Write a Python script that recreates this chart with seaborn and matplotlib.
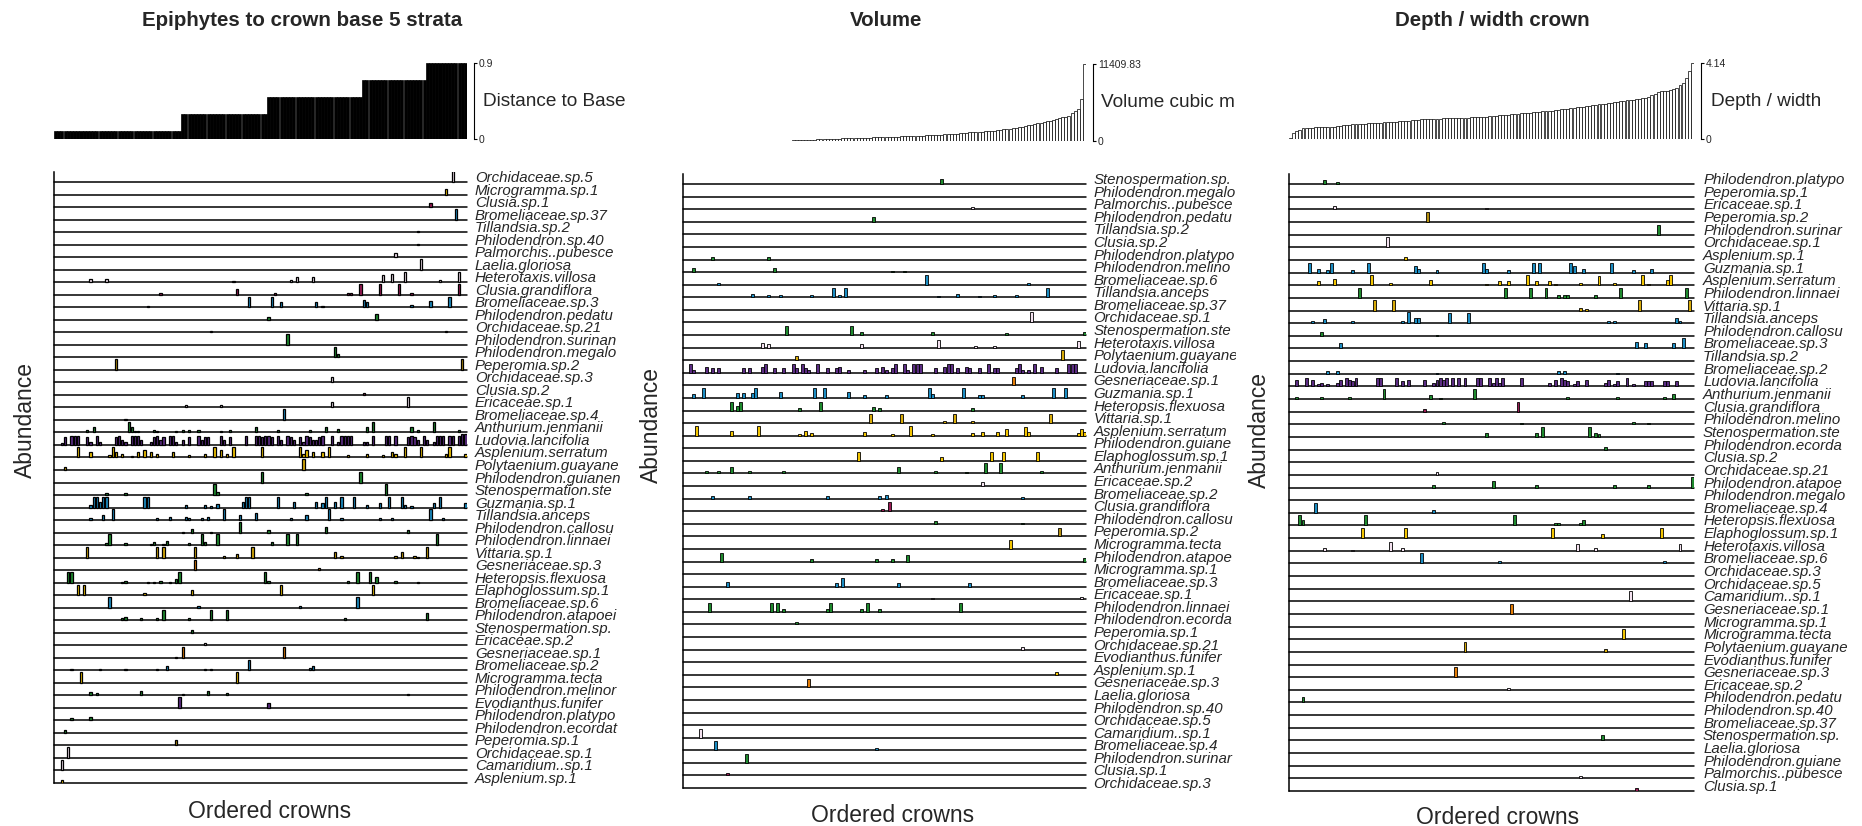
import numpy as np
import matplotlib
matplotlib.use("Agg")
import matplotlib.pyplot as plt
from matplotlib.transforms import blended_transform_factory
import seaborn as sns

N_CROWNS = 130
crowns = np.arange(N_CROWNS)

# ---- ordering variables (top bar charts) ----
strata_levels = [0.1, 0.3, 0.5, 0.7, 0.9]
strata_counts = [40, 27, 30, 20, 13]
distance_to_base = np.repeat(strata_levels, strata_counts)

volume_m3 = [
    0, 0, 0, 0, 0, 0, 0, 0, 0, 0, 0, 0, 0, 0, 0, 0,
    22, 25, 28, 30, 33, 36, 38, 41, 44, 47, 50, 53, 55, 58, 61, 64, 67, 70, 74, 78,
    150, 160, 172, 185, 196, 208, 220, 232, 241, 250,
    300, 315, 330, 345, 360, 372, 385, 398, 410,
    450, 462, 475, 488, 500, 512, 525, 538, 550, 562, 575, 588, 600, 615, 630,
    700, 715, 730, 745, 760, 775, 790, 805, 820, 840,
    880, 905, 930, 955, 975,
    1000, 1040, 1075, 1110, 1150,
    1200, 1230, 1260, 1290, 1320, 1350, 1380, 1410, 1440,
    1500, 1550, 1600, 1650,
    1750, 1800, 1850, 1900, 1960, 2020, 2100,
    2200, 2300, 2400, 2500,
    2600, 2700, 2800, 2900,
    3000, 3150, 3300,
    3400, 3500, 3600, 3700,
    4100, 4400, 4800, 6200, 11409.83]

depth_width = [
    0.08, 0.33, 0.44, 0.49,
    0.60, 0.61, 0.62, 0.62, 0.63, 0.64, 0.64, 0.65, 0.66, 0.67, 0.68, 0.69, 0.70,
    0.74, 0.76, 0.78, 0.80, 0.81, 0.82, 0.83, 0.84, 0.85, 0.86, 0.87, 0.88, 0.89,
    0.90, 0.91, 0.92, 0.93, 0.95, 0.96, 0.97, 0.99, 1.00,
    1.04, 1.05, 1.06, 1.07, 1.08, 1.08, 1.09, 1.10, 1.10, 1.11, 1.12, 1.12, 1.13,
    1.14, 1.14, 1.15, 1.16, 1.16, 1.17, 1.18, 1.18, 1.19, 1.20, 1.21, 1.22,
    1.24, 1.26, 1.27, 1.29, 1.30, 1.32, 1.33, 1.35, 1.36, 1.38, 1.39, 1.41, 1.42,
    1.44, 1.45, 1.47, 1.48, 1.50, 1.51, 1.53, 1.55, 1.57, 1.59, 1.61, 1.63, 1.65,
    1.67, 1.69, 1.72,
    1.75, 1.77, 1.80, 1.82, 1.84, 1.86, 1.88, 1.90, 1.93, 1.95, 1.98, 2.00, 2.03,
    2.05, 2.08, 2.10, 2.13, 2.15, 2.18,
    2.20, 2.22, 2.24, 2.30, 2.38, 2.45,
    2.55, 2.60, 2.62, 2.64, 2.66, 2.70,
    2.80, 2.95, 3.05,
    3.30, 3.70, 4.14]

# ---- abundance per species: (crown rank, abundance), rows listed top to bottom ----
strata_hits = {
    "Orchidaceae.sp.5": [(125, 10)],
    "Microgramma.sp.1": [(123, 5)],
    "Clusia.sp.1": [(118, 4)],
    "Bromeliaceae.sp.37": [(126, 10)],
    "Tillandsia.sp.2": [(114, 1)],
    "Philodendron.sp.40": [(114, 1)],
    "Palmorchis..pubesce": [(107, 4)],
    "Laelia.gloriosa": [(115, 10)],
    "Heterotaxis.villosa": [(11, 3), (16, 3), (56, 1), (74, 2), (76, 5), (81, 5), (103, 7), (106, 8),
                            (110, 10), (121, 2), (127, 10)],
    "Clusia.grandiflora": [(33, 2), (57, 5), (69, 2), (92, 2), (93, 2), (96, 10), (102, 10), (108, 10),
                           (112, 2), (127, 10)],
    "Bromeliaceae.sp.3": [(29, 1), (61, 10), (68, 10), (71, 5), (82, 5), (84, 1), (97, 7), (98, 5),
                          (112, 2), (118, 6), (124, 10)],
    "Philodendron.pedatu": [(67, 3), (101, 5)],
    "Orchidaceae.sp.21": [(49, 1), (123, 1)],
    "Philodendron.surinan": [(73, 10)],
    "Philodendron.megalo": [(88, 10), (89, 3)],
    "Peperomia.sp.2": [(19, 10), (128, 10)],
    "Orchidaceae.sp.3": [(87, 5)],
    "Clusia.sp.2": [(97, 2)],
    "Ericaceae.sp.1": [(41, 2), (52, 2), (87, 5), (111, 10)],
    "Bromeliaceae.sp.4": [(22, 1), (72, 10)],
    "Anthurium.jenmanii": [(10, 2), (12, 5), (23, 10), (24, 5), (25, 1), (26, 1), (31, 2), (32, 1),
                           (38, 1), (40, 2), (42, 2), (45, 2), (52, 1), (55, 2), (63, 5), (70, 2),
                           (80, 2), (85, 5), (89, 3), (98, 5), (100, 10), (112, 5), (114, 2),
                           (119, 10), (127, 2)],
    "Ludovia.lancifolia": [(2, 2), (3, 7), (5, 8), (6, 8), (7, 8), (10, 7), (11, 3), (13, 8), (14, 3),
                           (19, 7), (20, 8), (21, 5), (22, 3), (24, 8), (25, 8), (26, 8), (27, 5),
                           (30, 3), (31, 7), (32, 8), (33, 5), (34, 7), (36, 8), (37, 8), (38, 3),
                           (40, 5), (42, 7), (45, 8), (46, 5), (47, 7), (48, 7), (52, 8), (53, 5),
                           (55, 7), (60, 8), (63, 8), (64, 8), (65, 7), (66, 8), (67, 8), (68, 7),
                           (70, 8), (71, 5), (73, 8), (74, 7), (75, 5), (77, 7), (78, 3), (79, 8),
                           (80, 7), (81, 5), (82, 5), (83, 7), (84, 8), (87, 8), (89, 3), (90, 8),
                           (91, 8), (92, 8), (93, 8), (97, 3), (98, 3), (100, 8), (104, 8), (105, 8),
                           (107, 8), (111, 7), (112, 8), (113, 7), (114, 5), (116, 8), (117, 5),
                           (119, 3), (120, 8), (121, 8), (122, 8), (124, 8), (125, 8), (127, 8),
                           (128, 10), (129, 10)],
    "Asplenium.serratum": [(7, 10), (11, 5), (17, 2), (18, 10), (19, 5), (21, 3), (24, 1), (26, 5),
                           (28, 7), (30, 5), (32, 3), (37, 5), (42, 2), (47, 3), (50, 10), (52, 7),
                           (54, 3), (56, 10), (65, 10), (77, 10), (78, 3), (79, 7), (81, 5), (84, 5),
                           (86, 10), (92, 2), (98, 3), (103, 2), (106, 5), (107, 3), (110, 10),
                           (115, 10), (123, 3), (124, 10), (129, 3)],
    "Polytaenium.guayane": [(3, 3), (78, 10)],
    "Philodendron.guianen": [(65, 10), (96, 10)],
    "Stenospermation.ste": [(16, 2), (22, 2), (50, 10), (51, 3), (79, 2), (104, 10)],
    "Guzmania.sp.1": [(11, 2), (12, 10), (13, 10), (14, 5), (15, 10), (16, 10), (28, 10), (29, 10),
                      (41, 2), (47, 2), (49, 1), (51, 3), (59, 5), (60, 10), (61, 10), (70, 10),
                      (75, 5), (82, 5), (84, 4), (85, 10), (88, 5), (90, 10), (94, 10), (98, 2),
                      (102, 4), (105, 10), (109, 10), (110, 2), (112, 1), (119, 4), (121, 10), (129, 4)],
    "Tillandsia.anceps": [(11, 2), (15, 5), (18, 10), (32, 2), (36, 3), (41, 3), (42, 2), (46, 2),
                          (48, 3), (53, 10), (58, 5), (63, 7), (74, 2), (79, 5), (86, 10), (90, 2),
                          (102, 2), (106, 2), (118, 10), (122, 2)],
    "Philodendron.callosu": [(40, 1), (43, 3), (49, 1), (58, 10), (67, 2), (85, 5), (111, 2)],
    "Philodendron.linnaei": [(16, 2), (17, 10), (22, 2), (30, 1), (31, 3), (34, 1), (35, 4), (42, 2),
                             (46, 10), (47, 3), (51, 10), (68, 3), (73, 10), (76, 10), (120, 10)],
    "Vittaria.sp.1": [(10, 10), (32, 10), (34, 10), (44, 10), (53, 2), (57, 3), (62, 10), (88, 5),
                      (90, 2), (107, 2), (109, 5), (113, 2), (114, 1), (117, 10)],
    "Gesneriaceae.sp.3": [(44, 10), (83, 2)],
    "Heteropsis.flexuosa": [(4, 10), (5, 10), (21, 1), (22, 2), (29, 1), (31, 1), (33, 2), (36, 1),
                            (38, 3), (39, 10), (66, 10), (67, 2), (92, 2), (95, 10), (99, 10), (101, 5),
                            (107, 2), (114, 1)],
    "Elaphoglossum.sp.1": [(7, 10), (9, 10), (28, 2), (43, 5), (71, 10), (100, 10)],
    "Bromeliaceae.sp.6": [(17, 10), (45, 2), (77, 2), (95, 10)],
    "Philodendron.atapoei": [(21, 2), (22, 3), (27, 2), (32, 2), (34, 10), (42, 2), (49, 10), (54, 10),
                             (91, 2), (117, 7)],
    "Stenospermation.sp.": [(43, 3)],
    "Ericaceae.sp.2": [(47, 2)],
    "Gesneriaceae.sp.1": [(38, 1), (40, 10), (72, 10)],
    "Bromeliaceae.sp.2": [(5, 1), (14, 1), (22, 1), (32, 1), (35, 4), (47, 1), (49, 1), (61, 10),
                          (80, 2), (81, 4)],
    "Microgramma.tecta": [(8, 10), (57, 10)],
    "Philodendron.melinor": [(11, 3), (13, 2), (27, 4), (40, 1), (48, 4), (54, 2), (111, 1)],
    "Evodianthus.funifer": [(39, 10), (67, 5)],
    "Philodendron.platypo": [(5, 2), (11, 3)],
    "Philodendron.ecordat": [(3, 3)],
    "Peperomia.sp.1": [(38, 5)],
    "Orchidaceae.sp.1": [(4, 10)],
    "Camaridium..sp.1": [(2, 10)],
    "Asplenium.sp.1": [(2, 3)],
}

volume_hits = {
    "Stenospermation.sp.": [(83, 4)],
    "Philodendron.megalo": [],
    "Palmorchis..pubesce": [(93, 1.5)],
    "Philodendron.pedatu": [(61, 4)],
    "Tillandsia.sp.2": [],
    "Clusia.sp.2": [],
    "Philodendron.platypo": [(9, 2), (27, 2)],
    "Philodendron.melino": [(3, 3), (29, 3), (67, 1), (71, 1)],
    "Bromeliaceae.sp.6": [(11, 1), (78, 8), (111, 1)],
    "Tillandsia.anceps": [(22, 3), (27, 1.5), (31, 1.5), (41, 1.5), (48, 7), (50, 1.5), (52, 7), (82, 1),
                          (88, 3), (95, 1), (100, 1.5), (107, 1.5), (117, 7)],
    "Bromeliaceae.sp.37": [],
    "Orchidaceae.sp.1": [(112, 8)],
    "Stenospermation.ste": [(33, 7), (54, 7), (57, 2.5), (80, 2.5), (104, 1.5), (129, 2.5)],
    "Heterotaxis.villosa": [(25, 4), (27, 2.5), (57, 2.5), (82, 6), (94, 1.5), (100, 1.5), (127, 5)],
    "Polytaenium.guayane": [(36, 3), (122, 8)],
    "Ludovia.lancifolia": [(2, 7), (3, 2), (7, 5), (9, 4), (11, 4), (19, 4), (21, 4), (25, 5), (26, 7),
                           (29, 4), (32, 4), (35, 7), (36, 4), (38, 7), (39, 4), (40, 2), (43, 7),
                           (46, 4), (49, 4), (50, 5), (53, 2), (58, 2), (62, 4), (64, 5), (65, 2),
                           (67, 4), (68, 7), (71, 7), (72, 2), (74, 7), (75, 7), (76, 7), (81, 4),
                           (84, 5), (85, 7), (86, 7), (88, 4), (91, 5), (92, 4), (95, 4), (98, 7),
                           (100, 4), (101, 4), (107, 4), (108, 7), (109, 2), (111, 2), (113, 7),
                           (115, 5), (120, 4), (124, 7), (125, 7), (126, 7)],
    "Gesneriaceae.sp.1": [(106, 7)],
    "Guzmania.sp.1": [(3, 3), (6, 8), (17, 4), (19, 4), (22, 4), (23, 8), (31, 5), (42, 8), (45, 8),
                      (53, 5), (58, 2), (65, 2), (79, 8), (80, 3), (90, 8), (95, 2), (96, 2), (109, 2),
                      (119, 8), (123, 8)],
    "Heteropsis.flexuosa": [(15, 7), (17, 4), (18, 7), (37, 2), (44, 7), (61, 3), (63, 2), (93, 2)],
    "Vittaria.sp.1": [(60, 7), (70, 7), (84, 2), (87, 7), (93, 2), (118, 7)],
    "Asplenium.serratum": [(4, 8), (15, 4), (24, 8), (37, 1.5), (39, 4), (41, 2), (58, 3), (67, 1),
                           (73, 8), (80, 1), (93, 2), (96, 3), (101, 3), (104, 5), (110, 7), (111, 3),
                           (127, 2), (128, 5), (129, 3)],
    "Philodendron.guiane": [],
    "Elaphoglossum.sp.1": [(56, 7), (83, 3), (99, 7), (103, 7), (114, 7)],
    "Anthurium.jenmanii": [(7, 2), (11, 2), (15, 5), (21, 2), (32, 2), (69, 5), (81, 2), (91, 1),
                           (97, 8), (102, 8), (115, 2)],
    "Ericaceae.sp.2": [(96, 3)],
    "Bromeliaceae.sp.2": [(9, 2), (21, 2), (46, 2), (63, 2), (65, 3), (109, 1)],
    "Clusia.grandiflora": [(64, 2), (66, 7)],
    "Philodendron.callosu": [(81, 2), (109, 1)],
    "Peperomia.sp.2": [(121, 7)],
    "Microgramma.tecta": [(105, 7)],
    "Philodendron.atapoe": [(12, 7), (41, 2), (62, 2), (67, 2), (72, 5), (129, 3)],
    "Microgramma.sp.1": [],
    "Bromeliaceae.sp.3": [(14, 4), (49, 3), (51, 7), (69, 3), (92, 3)],
    "Ericaceae.sp.1": [(80, 1), (128, 2)],
    "Philodendron.linnaei": [(8, 7), (28, 7), (30, 7), (32, 2), (46, 2), (47, 7), (57, 2), (59, 7),
                             (63, 2), (89, 7)],
    "Philodendron.ecorda": [(36, 2)],
    "Peperomia.sp.1": [],
    "Orchidaceae.sp.21": [(109, 2)],
    "Evodianthus.funifer": [],
    "Asplenium.sp.1": [(120, 2)],
    "Gesneriaceae.sp.3": [(40, 7)],
    "Laelia.gloriosa": [],
    "Philodendron.sp.40": [],
    "Orchidaceae.sp.5": [],
    "Camaridium..sp.1": [(5, 7)],
    "Bromeliaceae.sp.4": [(10, 7), (62, 1.5)],
    "Philodendron.surinar": [(20, 7)],
    "Clusia.sp.1": [(14, 2)],
    "Orchidaceae.sp.3": [],
}

depth_hits = {
    "Philodendron.platypo": [(11, 3), (15, 2)],
    "Peperomia.sp.1": [],
    "Ericaceae.sp.1": [(14, 3), (63, 1)],
    "Peperomia.sp.2": [(44, 8)],
    "Philodendron.surinar": [(118, 8)],
    "Orchidaceae.sp.1": [(31, 8)],
    "Asplenium.sp.1": [(37, 2)],
    "Guzmania.sp.1": [(6, 8), (9, 3), (12, 2), (13, 8), (20, 2), (25, 8), (40, 5), (41, 3), (47, 2),
                      (62, 8), (63, 3), (70, 2), (78, 8), (80, 8), (90, 8), (91, 5), (94, 3), (103, 8),
                      (110, 2), (116, 3)],
    "Asplenium.serratum": [(9, 3), (14, 5), (26, 8), (32, 2), (45, 4), (63, 1), (67, 3), (70, 3),
                           (76, 8), (79, 3), (83, 3), (85, 1), (93, 2), (99, 7), (104, 2), (113, 8),
                           (115, 1), (121, 4), (122, 8)],
    "Philodendron.linnaei": [(22, 8), (69, 8), (77, 8), (82, 8), (86, 2), (88, 2), (89, 2), (98, 2),
                             (106, 8), (127, 8)],
    "Vittaria.sp.1": [(27, 8), (33, 8), (93, 2), (95, 1), (112, 8), (128, 8)],
    "Tillandsia.anceps": [(7, 2), (11, 3), (20, 2), (36, 2), (38, 9), (40, 4), (41, 4), (51, 8), (57, 8),
                          (102, 2), (104, 2), (124, 4), (125, 2)],
    "Philodendron.callosu": [(10, 3), (47, 1)],
    "Bromeliaceae.sp.3": [(16, 4), (111, 5), (114, 4), (123, 4), (126, 8)],
    "Tillandsia.sp.2": [],
    "Bromeliaceae.sp.2": [(12, 2), (15, 2), (47, 1), (86, 2), (88, 2), (105, 1)],
    "Ludovia.lancifolia": [(2, 5), (5, 7), (7, 5), (9, 2), (10, 3), (12, 2), (15, 3), (16, 5), (18, 7),
                           (19, 5), (20, 4), (21, 7), (28, 7), (29, 7), (34, 7), (36, 4), (38, 5),
                           (43, 5), (46, 3), (47, 5), (48, 7), (49, 5), (50, 7), (52, 7), (54, 7),
                           (56, 7), (60, 7), (61, 7), (64, 7), (65, 3), (66, 7), (67, 3), (68, 7),
                           (74, 7), (83, 3), (85, 5), (87, 7), (88, 5), (89, 4), (91, 2), (92, 4),
                           (95, 5), (101, 3), (102, 5), (104, 2), (105, 4), (108, 7), (110, 2),
                           (114, 4), (115, 4), (116, 4), (120, 4), (121, 4), (124, 4)],
    "Anthurium.jenmanii": [(2, 2), (10, 2), (19, 2), (30, 8), (45, 3), (48, 1), (59, 8), (89, 2),
                           (105, 2), (120, 2), (123, 4)],
    "Clusia.grandiflora": [(43, 2), (73, 8)],
    "Philodendron.melino": [(49, 2), (74, 1), (110, 2), (115, 1)],
    "Stenospermation.ste": [(63, 3), (79, 3), (81, 8), (96, 8), (98, 3), (99, 2)],
    "Philodendron.ecorda": [(101, 2)],
    "Clusia.sp.2": [],
    "Orchidaceae.sp.21": [(47, 2)],
    "Philodendron.atapoe": [(46, 2), (65, 5), (79, 2), (104, 2), (115, 2), (129, 8)],
    "Philodendron.megalo": [],
    "Bromeliaceae.sp.4": [(8, 8), (46, 2)],
    "Heteropsis.flexuosa": [(3, 8), (4, 4), (24, 8), (72, 8), (85, 2), (86, 2), (93, 2), (94, 4)],
    "Elaphoglossum.sp.1": [(23, 8), (37, 8), (84, 8), (100, 3), (119, 8)],
    "Heterotaxis.villosa": [(11, 2), (20, 1), (32, 7), (36, 2), (92, 5), (98, 2), (125, 5)],
    "Bromeliaceae.sp.6": [(42, 8), (67, 2), (120, 2)],
    "Orchidaceae.sp.3": [],
    "Orchidaceae.sp.5": [],
    "Camaridium..sp.1": [(109, 8)],
    "Gesneriaceae.sp.1": [(71, 8)],
    "Microgramma.sp.1": [],
    "Microgramma.tecta": [(107, 8)],
    "Polytaenium.guayane": [(56, 8), (101, 2)],
    "Evodianthus.funifer": [],
    "Gesneriaceae.sp.3": [(53, 8)],
    "Ericaceae.sp.2": [(70, 1.5)],
    "Philodendron.pedatu": [(4, 4)],
    "Philodendron.sp.40": [],
    "Bromeliaceae.sp.37": [],
    "Stenospermation.sp.": [(100, 4)],
    "Laelia.gloriosa": [],
    "Philodendron.guiane": [],
    "Palmorchis..pubesce": [(93, 2)],
    "Clusia.sp.1": [(111, 2)],
}

# colour by plant group (genus or family prefix of the name)
group_colors = {
    "Ludovia": "#5b2c83", "Evodianthus": "#5b2c83",
    "Guzmania": "#1b8cc2", "Tillandsia": "#1b8cc2", "Bromeliaceae": "#1b8cc2",
    "Philodendron": "#1e8a2e", "Anthurium": "#1e8a2e", "Heteropsis": "#1e8a2e",
    "Stenospermation": "#1e8a2e",
    "Asplenium": "#f2c400", "Elaphoglossum": "#f2c400", "Microgramma": "#f2c400",
    "Polytaenium": "#d7aa08", "Vittaria": "#d7aa08", "Peperomia": "#b58f10",
    "Orchidaceae": "#f4e2f0", "Laelia": "#f4e2f0", "Heterotaxis": "#f4e2f0",
    "Palmorchis": "#f4e2f0", "Camaridium": "#f4e2f0", "Ericaceae": "#f4e2f0",
    "Clusia": "#9a1b55", "Gesneriaceae": "#e27b05",
}


def species_color(name):
    return group_colors[name.split(".")[0]]


W, H = 1862, 826
sns.set_theme(style="white")
plt.rcParams["font.family"] = ["Liberation Sans", "DejaVu Sans"]
fig = plt.figure(figsize=(W / 100, H / 100), dpi=100)


def px_axes(left, top, right, bottom):
    return fig.add_axes([left / W, 1 - bottom / H, (right - left) / W, (bottom - top) / H])


def draw_top(ax, values, fill, tick_text):
    sns.barplot(x=crowns, y=values, native_scale=True, width=0.95, color=fill, saturation=1,
                edgecolor="black", linewidth=0.5, errorbar=None, ax=ax)
    ax.set_xlim(-0.5, N_CROWNS - 0.5)
    ax.set_ylim(0, max(values))
    for s in ["top", "left", "bottom"]:
        ax.spines[s].set_visible(False)
    ax.spines["right"].set_position(("outward", 5))
    ax.spines["right"].set_color("black")
    ax.spines["right"].set_linewidth(0.8)
    ax.set_xticks([])
    ax.yaxis.tick_right()
    ax.set_yticks([0, max(values)])
    ax.set_yticklabels(["0", tick_text], fontsize=7.5)
    ax.tick_params(axis="y", length=2.5, width=0.8, color="black", pad=1)
    ax.set_xlabel("")
    ax.set_ylabel("")


def draw_rows(ax, hits, row_scale, bar_width, edge_lw):
    n = len(hits)
    for k, (name, bars) in enumerate(hits.items()):
        base = n - 1 - k
        ax.axhline(base, color="black", lw=1.1, zorder=1, clip_on=False)
        if bars:
            xs = [b[0] for b in bars]
            hs = [b[1] * row_scale for b in bars]
            ax.bar(xs, hs, bottom=base, width=bar_width, color=species_color(name),
                   edgecolor="black", linewidth=edge_lw, zorder=2)
    ax.set_xlim(-0.5, N_CROWNS - 0.5)
    ax.set_ylim(0, n - 1 + 0.8)
    for s in ["top", "right", "bottom"]:
        ax.spines[s].set_visible(False)
    ax.spines["left"].set_color("black")
    ax.spines["left"].set_linewidth(1.1)
    ax.set_xticks([])
    ax.set_yticks([])


panels = [
    dict(title="Epiphytes to crown base 5 strata", values=distance_to_base, fill="black",
         tick="0.9", side_label="Distance to Base", hits=strata_hits, row_scale=0.085,
         bar_width=0.7, edge_lw=0.9,
         rows=(54, 172, 467, 783), top=(54, 63, 467, 139), labels=(471, 50, 626, 800),
         ylab=(25, 420), xlab=(270, 812), tpos=(302, 21)),
    dict(title="Volume", values=volume_m3, fill="white",
         tick="11409.83", side_label="Volume cubic m", hits=volume_hits, row_scale=0.1,
         bar_width=0.95, edge_lw=0.6,
         rows=(683, 174, 1086, 788), top=(683, 64, 1086, 141), labels=(1090, 50, 1236, 800),
         ylab=(651, 425), xlab=(893, 816), tpos=(886, 21)),
    dict(title="Depth / width crown", values=depth_width, fill="white",
         tick="4.14", side_label="Depth / width", hits=depth_hits, row_scale=0.1,
         bar_width=0.95, edge_lw=0.6,
         rows=(1289, 174, 1694, 791), top=(1289, 63, 1694, 139), labels=(1699, 50, 1862, 800),
         ylab=(1259, 430), xlab=(1498, 818), tpos=(1492, 21)),
]

for p in panels:
    top_ax = px_axes(*p["top"])
    draw_top(top_ax, p["values"], p["fill"], p["tick"])

    rows_ax = px_axes(*p["rows"])
    draw_rows(rows_ax, p["hits"], p["row_scale"], p["bar_width"], p["edge_lw"])

    lab_ax = px_axes(*p["labels"])
    lab_ax.set_axis_off()
    names = list(p["hits"])
    n = len(names)
    row_tr = blended_transform_factory(lab_ax.transAxes, rows_ax.transData)
    for k, name in enumerate(names):
        lab_ax.text(0.025, n - 1 - k, name, transform=row_tr, fontsize=10.8, style="italic",
                    va="baseline", ha="left", clip_on=True)
    top_tr = blended_transform_factory(lab_ax.transAxes, top_ax.transAxes)
    lab_ax.text(0.075, 0.5, p["side_label"], transform=top_tr, fontsize=13.7, va="center",
                ha="left", clip_on=True)

    fig.text(p["ylab"][0] / W, 1 - p["ylab"][1] / H, "Abundance", rotation=90, fontsize=16.5,
             ha="center", va="center")
    fig.text(p["xlab"][0] / W, 1 - p["xlab"][1] / H, "Ordered crowns", fontsize=16.5,
             ha="center", va="center")
    fig.text(p["tpos"][0] / W, 1 - p["tpos"][1] / H, p["title"], fontsize=14.8,
             fontweight="bold", ha="center", va="center")

fig.savefig("out.png", dpi=100, facecolor="white")
